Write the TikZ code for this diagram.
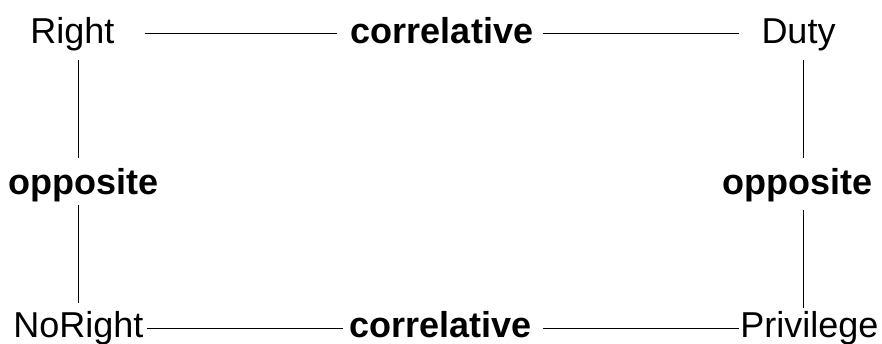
\documentclass[tikz,border=0pt]{standalone}
\usepackage{fontspec}
\setmainfont{Liberation Sans}
\begin{document}
\begin{tikzpicture}[x=1pt,y=1pt,
  lbl/.style={inner sep=0pt, font=\fontsize{36}{40}\selectfont, text height=25.8pt, text depth=7.6pt},
  rel/.style={lbl, font=\fontsize{36}{40}\selectfont\bfseries},
  link/.style={line width=1pt, draw=black}]
\useasboundingbox (0,0) rectangle (882,343);
\node[lbl] (right) at (72.5,309) {Right};
\node[rel] (ctop) at (442,309) {correlative};
\node[lbl] (duty) at (798.5,309) {Duty};
\node[rel] (oppl) at (83.5,158) {opposite};
\node[rel] (oppr) at (797,158) {opposite};
\node[lbl] (noright) at (78.5,15) {NoRight};
\node[rel] (cbot) at (440.5,15) {correlative};
\node[lbl] (priv) at (809.5,15) {Privilege};
\coordinate (xl) at (78,0);
\coordinate (xr) at (803,0);
% horizontal connectors
\draw[link, shorten <=30pt, shorten >=14pt] (right.east) -- (ctop.west);
\draw[link, shorten <=10pt, shorten >=22pt] (ctop.east) -- (duty.west);
\draw[link, shorten <=3pt, shorten >=6pt] (noright.east) -- (cbot.west);
\draw[link, shorten <=11pt, shorten >=1.5pt] (cbot.east) -- (priv.west);
% vertical connectors
\draw[link, shorten <=9.4pt, shorten >=10pt] (right.south -| xl) -- (oppl.north -| xl);
\draw[link, shorten <=3.4pt, shorten >=8pt] (oppl.south -| xl) -- (noright.north -| xl);
\draw[link, shorten <=9.4pt, shorten >=10pt] (duty.south -| xr) -- (oppr.north -| xr);
\draw[link, shorten <=8.4pt, shorten >=3pt] (oppr.south -| xr) -- (priv.north -| xr);
\end{tikzpicture}
\end{document}
